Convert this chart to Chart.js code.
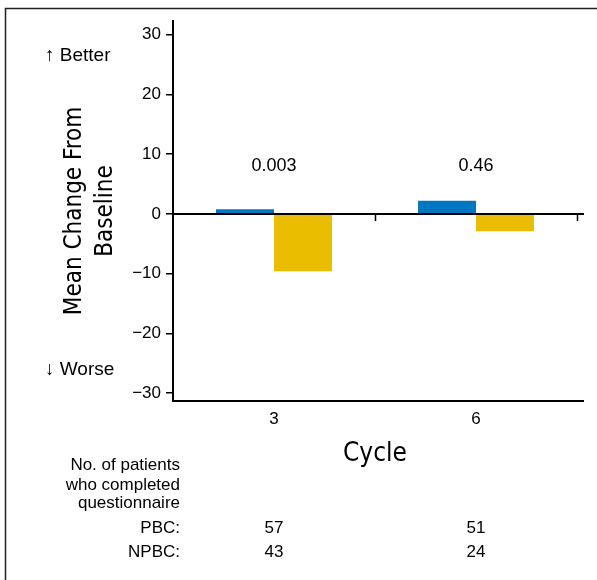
<!DOCTYPE html>
<html>
<head>
<meta charset="utf-8">
<script src="https://cdn.jsdelivr.net/npm/chart.js@4/dist/chart.umd.min.js"></script>
<style>
  html, body { margin: 0; padding: 0; background: #fff; }
  canvas { display: block; }
</style>
</head>
<body>
<canvas id="c" width="597" height="580"></canvas>
<script>
// ---- data ----
const categories = ['3', '6'];
const pbcValues = [0.8, 2.2];
const npbcValues = [-9.6, -2.9];
const pValues = ['0.003', '0.46'];
const yTicks = [-30, -20, -10, 0, 10, 20, 30];
const pbcCounts = [57, 51];
const npbcCounts = [43, 24];
const tableHeader = ['No. of patients', 'who completed', 'questionnaire'];

// ---- style ----
const SANS = "'Liberation Sans', Arial, Helvetica, sans-serif";
const NARROW = "'Liberation Sans Narrow', 'DejaVu Sans Condensed', 'Roboto Condensed', sans-serif";
const BLUE = '#0077C0';
const YELLOW = '#EBBD00';

const decor = {
  id: 'decor',
  beforeDraw(chart) {
    const ctx = chart.ctx;
    ctx.save();
    ctx.fillStyle = '#fff';
    ctx.fillRect(0, 0, chart.width, chart.height);
    // frame (left + top)
    ctx.strokeStyle = '#222';
    ctx.lineWidth = 1.5;
    ctx.beginPath();
    ctx.moveTo(5.5, chart.height);
    ctx.lineTo(5.5, 8.5);
    ctx.lineTo(chart.width, 8.5);
    ctx.stroke();
    ctx.restore();
  },
  afterDraw(chart) {
    const ctx = chart.ctx;
    const xs = chart.scales.x, ys = chart.scales.y;
    const a = chart.chartArea;
    const y0 = ys.getPixelForValue(0);
    const half = (xs.getPixelForValue(1) - xs.getPixelForValue(0)) / 2;
    ctx.save();
    ctx.strokeStyle = '#000';
    ctx.lineWidth = 2;
    // zero line
    ctx.beginPath();
    ctx.moveTo(a.left, y0);
    ctx.lineTo(a.right + 7, y0);
    // extend bottom axis line
    ctx.moveTo(a.right - 1, a.bottom);
    ctx.lineTo(a.right + 7, a.bottom);
    ctx.stroke();
    // tick marks at category boundaries on the zero line
    ctx.lineWidth = 1.5;
    ctx.beginPath();
    categories.forEach((c, i) => {
      const bx = Math.round(xs.getPixelForValue(i) + half) + 0.5;
      ctx.moveTo(bx, y0);
      ctx.lineTo(bx, y0 + 7);
    });
    ctx.stroke();

    ctx.fillStyle = '#000';
    // p-values
    ctx.font = '18px ' + SANS;
    ctx.textAlign = 'center';
    ctx.textBaseline = 'middle';
    pValues.forEach((p, i) => {
      ctx.fillText(p, xs.getPixelForValue(i), ys.getPixelForValue(8));
    });
    // Better / Worse
    ctx.font = '19px ' + SANS;
    ctx.textAlign = 'left';
    ctx.fillText('\u2191 Better', 45, ys.getPixelForValue(26.4));
    ctx.fillText('\u2193 Worse', 45, ys.getPixelForValue(-26.1));
    // table
    ctx.font = '17px ' + SANS;
    ctx.textAlign = 'right';
    const hy = [465, 485, 503];
    tableHeader.forEach((t, i) => ctx.fillText(t, 180, hy[i]));
    ctx.fillText('PBC:', 180, 528);
    ctx.fillText('NPBC:', 180, 552);
    ctx.textAlign = 'center';
    categories.forEach((c, i) => {
      const cx = xs.getPixelForValue(i);
      ctx.fillText(String(pbcCounts[i]), cx, 528);
      ctx.fillText(String(npbcCounts[i]), cx, 552);
    });
    ctx.restore();
  }
};

new Chart(document.getElementById('c'), {
  type: 'bar',
  data: {
    labels: categories,
    datasets: [
      { label: 'PBC', data: pbcValues, backgroundColor: BLUE, barPercentage: 1, categoryPercentage: 0.574 },
      { label: 'NPBC', data: npbcValues, backgroundColor: YELLOW, barPercentage: 1, categoryPercentage: 0.574 }
    ]
  },
  options: {
    responsive: false,
    animation: false,
    layout: { padding: { top: 21, right: 20, left: 0, bottom: 0 } },
    plugins: { legend: { display: false }, tooltip: { enabled: false } },
    scales: {
      x: {
        grid: { display: false, drawTicks: false },
        border: { display: true, color: '#000', width: 2 },
        ticks: { color: '#000', font: { family: SANS, size: 17 }, padding: 8 },
        title: {
          display: true, text: 'Cycle', color: '#000',
          font: { family: NARROW, size: 26, lineHeight: 1.2 },
          padding: { top: 0, bottom: 110 }
        },
        afterFit(s) { s.height = 179; }
      },
      y: {
        min: -31.3, max: 32.3,
        afterBuildTicks(s) { s.ticks = yTicks.map(v => ({ value: v })); },
        grid: { display: true, drawOnChartArea: false, drawTicks: true, tickLength: 7, color: '#000', lineWidth: 1.5 },
        border: { display: true, color: '#000', width: 2 },
        ticks: {
          color: '#000', font: { family: SANS, size: 17 }, padding: 5,
          callback: v => (v < 0 ? '\u2212' + Math.abs(v) : String(v))
        },
        title: {
          display: true, text: ['Mean Change From', 'Baseline'], color: '#000',
          font: { family: NARROW, size: 24, lineHeight: 1.3 },
          padding: { top: 59, bottom: 0 }
        },
        afterFit(s) { s.width = 173; }
      }
    }
  },
  plugins: [decor]
});
</script>
</body>
</html>
